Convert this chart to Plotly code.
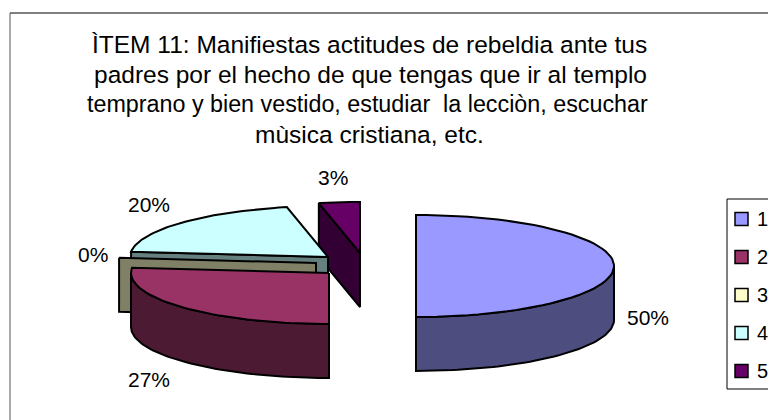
import numpy as np
import plotly.graph_objects as go

categories = ["1", "2", "3", "4", "5"]
values = [15, 8, 0, 6, 1]
percent_labels = ["50%", "27%", "0%", "20%", "3%"]
title_lines = [
    "ÌTEM 11: Manifiestas actitudes de rebeldia ante tus",
    "padres por el hecho de que tengas que ir al templo",
    "temprano y bien vestido, estudiar \u00a0la lecciòn, escuchar",
    "mùsica cristiana, etc.",
]
title_sizes = [24.5, 24.5, 23.3, 24.5]
top_colors = ["#9999FF", "#993366", "#FFFFCC", "#CCFFFF", "#660066"]
wall_colors = ["#4D4D80", "#4D1A33", "#808066", "#668080", "#330033"]

# projection of the 3D pie (pixels of the 768x420 page)
centers = [(416, 266), (329, 273), (316, 263), (328, 257), (360, 253)]
RX, RY, DEPTH = 198, 51, 54
label_pos = [(648, 317), (149, 379), (93, 254), (149, 204), (333, 177)]
title_y = [44, 74, 104, 134]
title_x = [369.5, 370, 367.5, 369]
legend_y = [219, 257, 295, 333, 371]
legend_marker_x = 741.5
legend_text_x = 756.5

total = sum(values)
edges = np.concatenate([[0], np.cumsum(values)]) / total * 2 * np.pi


def rim(c, a0, a1, n=60):
    t = np.linspace(a0, a1, n)
    return c[0] + RX * np.sin(t), c[1] - RY * np.cos(t)


fig = go.Figure()


def poly(x, y, color):
    fig.add_trace(go.Scatter(
        x=list(x) + [x[0]], y=list(y) + [y[0]], mode="lines", fill="toself",
        fillcolor=color, line=dict(color="black", width=2),
        hoverinfo="skip", showlegend=False))


def radial_wall(i, a):
    c = centers[i]
    x, y = rim(c, a, a, 1)
    poly([x[0], c[0], c[0], x[0]],
         [y[0], c[1], c[1] + DEPTH, y[0] + DEPTH], wall_colors[i])


def curved_wall(i, a0, a1):
    x, y = rim(centers[i], a0, a1)
    poly(np.concatenate([x, x[::-1]]),
         np.concatenate([y, y[::-1] + DEPTH]), wall_colors[i])


def top_face(i):
    c = centers[i]
    x, y = rim(c, edges[i], edges[i + 1])
    poly(np.concatenate([[c[0]], x]), np.concatenate([[c[1]], y]), top_colors[i])


# back to front
radial_wall(4, edges[4])
top_face(4)
radial_wall(3, edges[3])
top_face(3)
radial_wall(2, edges[2])
curved_wall(1, edges[1], 1.5 * np.pi)
top_face(1)
curved_wall(0, 0.5 * np.pi, edges[1])
top_face(0)

# legend keys, placed to match the reference's clipped legend box
fig.add_trace(go.Scatter(
    x=[legend_marker_x] * len(categories), y=legend_y, mode="markers",
    marker=dict(symbol="square", size=13, color=top_colors,
                line=dict(color="black", width=1.5)),
    hoverinfo="skip", showlegend=False))

annotations = []
for text, x, y, size in zip(title_lines, title_x, title_y, title_sizes):
    annotations.append(dict(x=x, y=y, text=text, showarrow=False,
                            xanchor="center", yanchor="middle",
                            font=dict(size=size)))
for text, (x, y) in zip(percent_labels, label_pos):
    annotations.append(dict(x=x, y=y, text=text, showarrow=False,
                            xanchor="center", yanchor="middle",
                            font=dict(size=21)))
for text, y in zip(categories, legend_y):
    annotations.append(dict(x=legend_text_x, y=y, text=text, showarrow=False,
                            xanchor="left", yanchor="middle", xshift=-2,
                            font=dict(size=20)))

fig.update_layout(
    width=768, height=420,
    margin=dict(l=0, r=0, t=0, b=0, autoexpand=False),
    paper_bgcolor="white", plot_bgcolor="white",
    showlegend=False,
    font=dict(family="Liberation Sans, Arial, sans-serif", color="black", size=19),
    xaxis=dict(range=[0, 768], visible=False, fixedrange=True),
    yaxis=dict(range=[420, 0], visible=False, fixedrange=True),
    annotations=annotations,
    shapes=[
        dict(type="line", x0=10, x1=768, y0=13, y1=13, line=dict(color="black", width=1)),
        dict(type="line", x0=10, x1=10, y0=13, y1=420, line=dict(color="#555555", width=1)),
        dict(type="rect", x0=727, x1=770, y0=199, y1=389, line=dict(color="black", width=1)),
    ],
)
fig.write_html("out.html", config=dict(displayModeBar=False),
               post_script="document.body.style.margin='0';document.body.style.overflow='hidden';")
